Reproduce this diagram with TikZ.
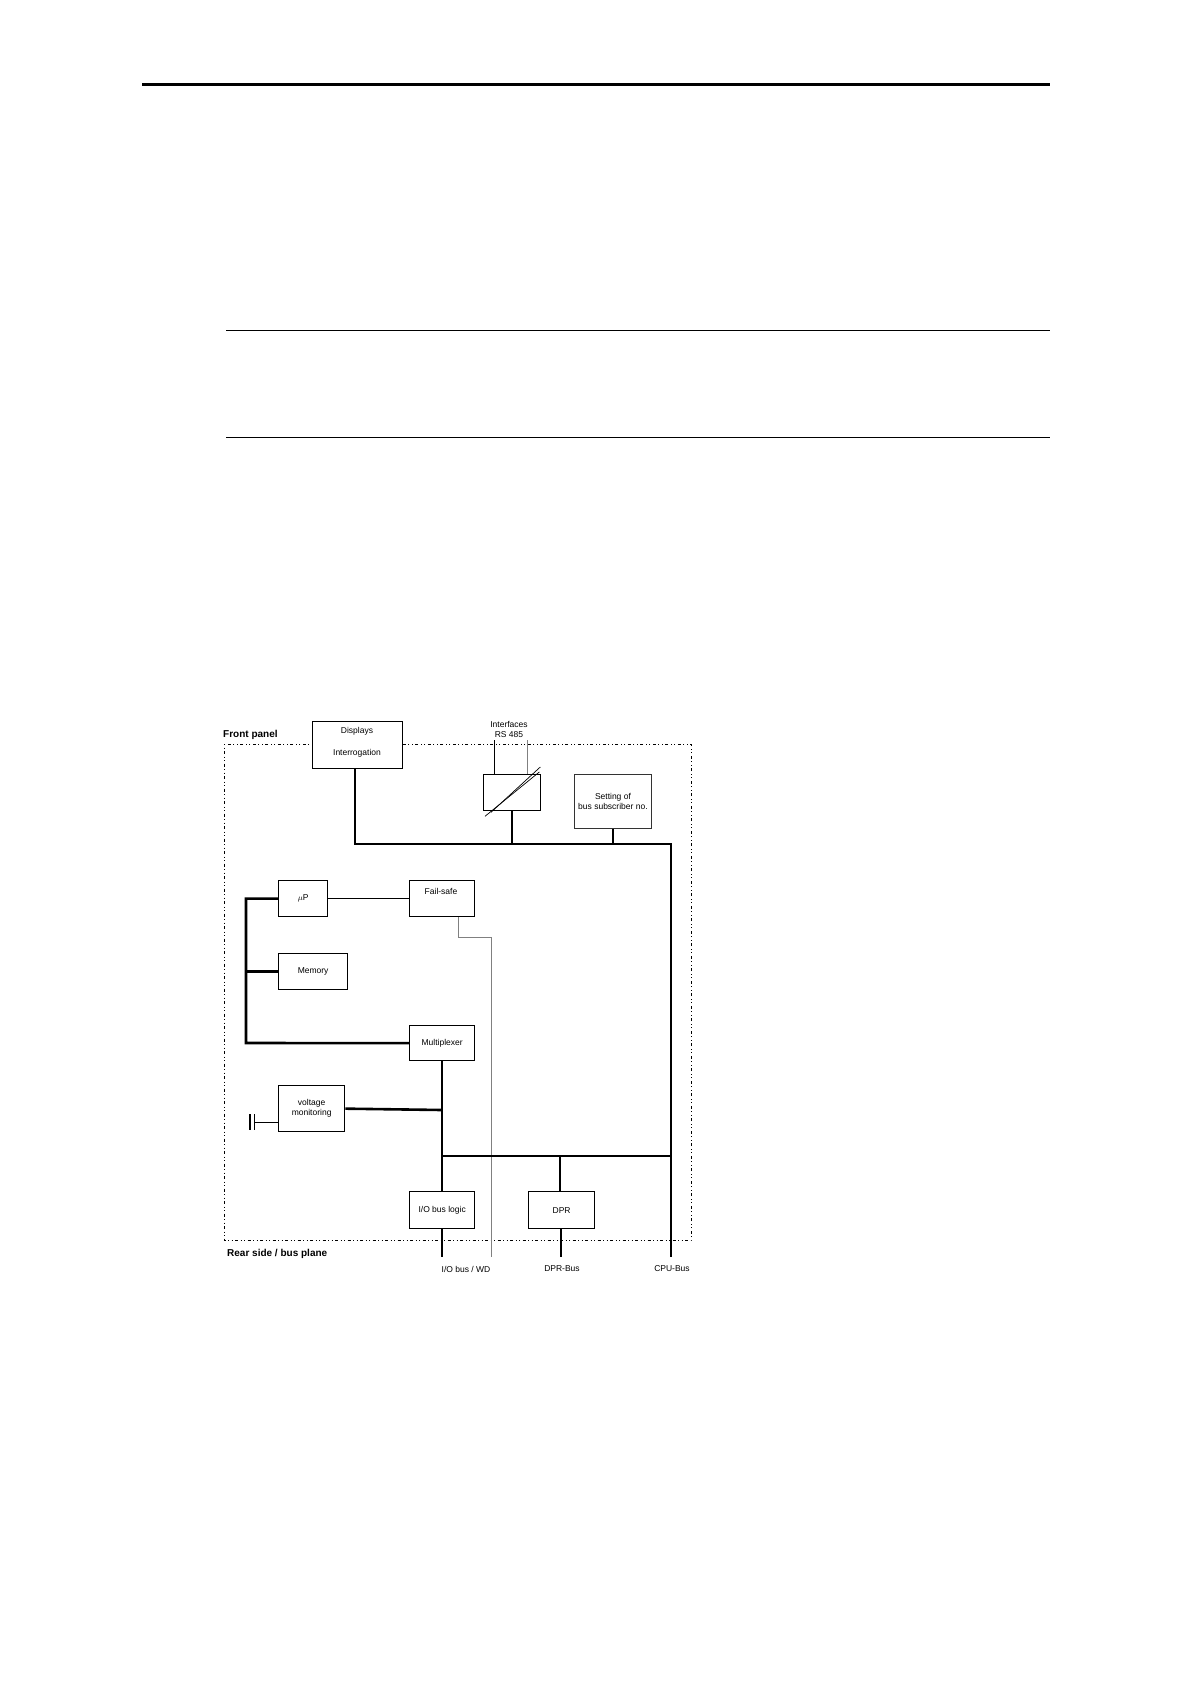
\documentclass[tikz,border=0pt]{standalone}
\usepackage{fontspec}
\setmainfont{Liberation Sans}
\begin{document}
\begin{tikzpicture}[x=1pt,y=-1pt,
 box/.style={draw,line width=1.3pt,inner sep=0pt,anchor=north west,align=center,font=\fontsize{8.5}{10}\selectfont},
 lbl/.style={font=\fontsize{8.5}{10}\selectfont,inner sep=0pt},
 blbl/.style={font=\bfseries\fontsize{10}{12}\selectfont,inner sep=0pt,anchor=west},
 bus/.style={line width=2.6pt},
 thin/.style={line width=0.7pt},
 gray/.style={line width=0.8pt,draw=gray}]
\useasboundingbox (0,0) rectangle (1190,1684);
\fill[white] (0,0) rectangle (1190,1684);
% page rules
\draw[line width=3pt] (142,84) -- (1050,84);
\draw[line width=0.8pt] (226,330) -- (1050,330);
\draw[line width=0.8pt] (226,437) -- (1050,437);
% frame
\draw[line width=0.7pt,dash dot,dash pattern=on 1pt off 2.5pt on 1pt off 2.5pt on 3pt off 2.5pt] (224,744) rectangle (691,1240);
\node[blbl] (fp) at (223,735) {Front panel};
\node[blbl] (rs) at (227,1254) {Rear side / bus plane};
% boxes
\node[box,fill=white,minimum width=90pt,minimum height=47pt] (disp) at (312,721) {};
\node[lbl] at (357,731) {Displays};
\node[lbl] at (357,753) {Interrogation};
\node[lbl,align=center] (ifc) at (509,729) {Interfaces\\RS 485};
\node[box,minimum width=57pt,minimum height=36pt] (conv) at (483,774) {};
\draw[thin] ([xshift=2pt,yshift=-5pt]conv.south west) -- ([xshift=-2pt,yshift=2pt]conv.north east);
\draw[thin] ([xshift=8pt,yshift=-1pt]conv.south west) -- ([xshift=-1pt,yshift=7pt]conv.north east);
\coordinate (i1) at (494,740); \coordinate (i2) at (527,740);
\draw[thin] (i1) -- (conv.north -| i1);
\draw[gray] (i2) -- (conv.north -| i2);
\node[box,draw=black!80,line width=0.9pt,minimum width=77pt,minimum height=54pt] (set) at (574,774) {Setting of\\bus subscriber no.};
\node[box,minimum width=49pt,minimum height=36pt] (up) at (278,880) {$\mu$P};
\node[box,minimum width=65pt,minimum height=36pt] (fs) at (409,880) {};
\node[lbl] at (441,891) {Fail-safe};
\node[box,minimum width=69pt,minimum height=36pt] (mem) at (278,953) {Memory};
\node[box,minimum width=65pt,minimum height=35pt] (mux) at (409,1025) {Multiplexer};
\node[box,minimum width=66pt,minimum height=46pt] (vm) at (278,1085) {voltage\\monitoring};
\node[box,minimum width=65pt,minimum height=37pt] (io) at (409,1191) {I/O bus logic};
\node[box,minimum width=66pt,minimum height=37pt] (dpr) at (528,1191) {DPR};
% upper bus
\coordinate (b1) at (355,844); \coordinate (b2) at (671,844);
\coordinate (cpu) at (671,1257);
\draw[bus] (disp.south -| b1) -- (b1) -- (b2) -- (cpu);
\draw[bus] (conv.south) -- (conv.south |- b1);
\draw[bus] (set.south) -- (set.south |- b1);
% left bus
\coordinate (l1) at (246,898); \coordinate (l2) at (246,1043);
\draw[bus] (up.west) -- (up.west -| l1) -- (l2) -- (mux.west);
\draw[bus] (mem.west -| l1) -- (mem.west);
\draw[thin] (up.east) -- (fs.west);
% failsafe line
\coordinate (f1) at (458,937); \coordinate (f2) at (491,937); \coordinate (wd) at (491,1257);
\draw[gray] (fs.south -| f1) -- (f1) -- (f2) -- (wd);
% mux trunk
\coordinate (m1) at (442,1110); \coordinate (m2) at (442,1156); \coordinate (iob) at (442,1257);
\draw[bus] (mux.south -| m1) -- (io.north -| m1);
\draw[bus] (io.south -| m1) -- (iob);
\draw[bus] (vm.east) -- (m1);
\draw[bus] (m2) -- (m2 -| cpu);
\coordinate (d1) at (560,1156);
\draw[bus] (d1) -- (dpr.north -| d1);
\coordinate (dprb) at (561,1257);
\draw[bus] (dpr.south -| dprb) -- (dprb);
% ground
\coordinate (g) at (254,1122);
\draw[thin] (vm.west |- g) -- (g);
\draw[line width=1.4pt] (250,1114) -- (250,1130);
\draw[thin] (254,1114) -- (254,1130);
% bottom labels
\node[lbl] (l_io) at (466,1269) {I/O bus / WD};
\node[lbl] (l_dpr) at (562,1269) {DPR-Bus};
\node[lbl] (l_cpu) at (672,1269) {CPU-Bus};
\end{tikzpicture}
\end{document}
